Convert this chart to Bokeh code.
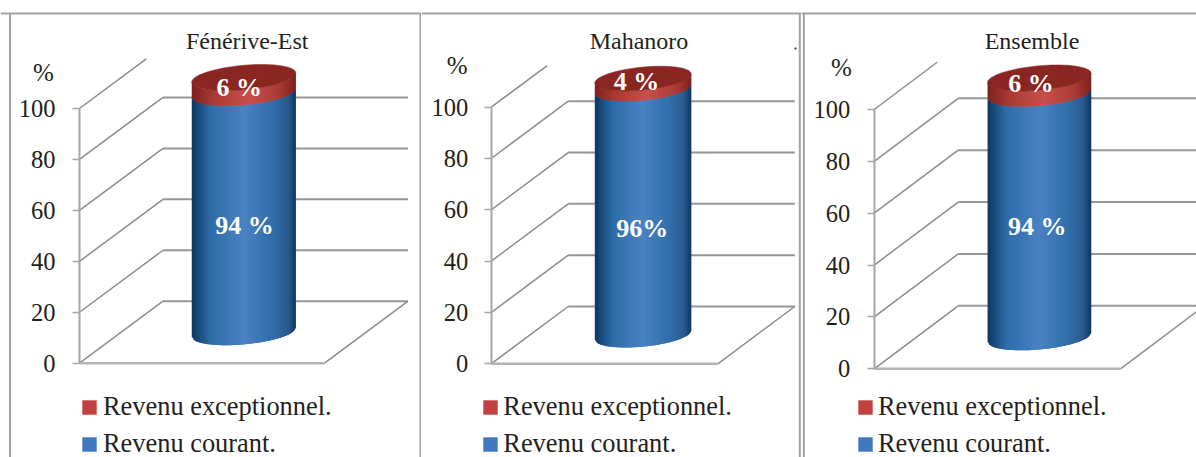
import numpy as np
from bokeh.core.properties import value
from bokeh.embed import file_html
from bokeh.layouts import row
from bokeh.models import FixedTicker, Legend, LegendItem, Range1d
from bokeh.plotting import figure
from bokeh.resources import INLINE

# ---- data ----
sites = ["Fénérive-Est", "Mahanoro", "Ensemble"]
revenu_courant = [94, 96, 94]
revenu_exceptionnel = [6, 4, 6]
courant_labels = ["94 %", "96%", "94 %"]
exceptionnel_labels = ["6 %", "4 %", "6 %"]
tick_values = [0, 20, 40, 60, 80, 100]
legend_labels = ["Revenu exceptionnel.", "Revenu courant."]
axis_unit = "%"

# ---- layout (page pixels) ----
FONT = "Liberation Serif"
TEXT = "#231f20"
GRID = "#969696"
panels = [
    dict(x0=0, x1=421, ax=79, y0=362.7, y100=108, front=324, dx=83.5, dy=62, cut=0.8, a=52, b=12.2,
         title_x=246.7, unit=(43, 71.5), lab_exc=(238.7, 87), lab_cou=(244, 225),
         leg=(82, 393), std=17, stand=5),
    dict(x0=421, x1=801, ax=490.7, y0=363.3, y100=106.7, front=717.3, dx=77, dy=57.3, cut=0.727, a=48.2, b=11.5,
         title_x=638.5, unit=(456.7, 64.5), lab_exc=(636, 81), lab_cou=(641.7, 228),
         leg=(483.3, 393), std=16, stand=4),
    dict(x0=801, x1=1196, ax=873.7, y0=368.3, y100=109, front=1120, dx=84, dy=63, cut=0.75, a=51.8, b=12.2,
         title_x=1031.5, unit=(841, 66.5), lab_exc=(1030.5, 82.5), lab_cou=(1036.7, 226),
         leg=(858, 393), std=17, stand=4),
]
blue_stops = [(0, "#0e3a63"), (.18, "#2e6ca8"), (.5, "#4a82c4"), (.8, "#2f6ca8"), (.93, "#2d5a8c"), (1, "#0e3b65")]
red_stops = [(0, "#7f211d"), (.2, "#a83a35"), (.55, "#c94f4a"), (.85, "#a83a35"), (1, "#7f211d")]
TOP_COLOR = "#8a2622"


def ramp(stops, t):
    ts = [s[0] for s in stops]
    cols = np.array([[int(s[1][i:i + 2], 16) for i in (1, 3, 5)] for s in stops], float)
    rgb = [np.interp(t, ts, cols[:, i]) for i in range(3)]
    return "#%02x%02x%02x" % tuple(int(round(c)) for c in rgb)


def build(i):
    g = panels[i]
    k = (g["y0"] - g["y100"]) / 100.0
    W, H = g["x1"] - g["x0"], 457
    to_v = lambda py: (g["y0"] - py) / k
    p = figure(width=W, height=H, output_backend="svg", toolbar_location=None,
               x_range=Range1d(g["x0"], g["x1"]), y_range=Range1d(to_v(H), to_v(0)),
               min_border=0, outline_line_color=None, background_fill_color="white",
               border_fill_color="white")
    p.grid.visible = False
    p.xaxis.visible = False

    ax = p.yaxis[0]
    ax.fixed_location = g["ax"]
    ax.ticker = FixedTicker(ticks=tick_values)
    ax.bounds = (0, 100)
    ax.axis_line_color = "#a6a6a6"
    ax.axis_line_width = 2
    ax.major_tick_line_color = "#a6a6a6"
    ax.major_tick_line_width = 1.5
    ax.major_tick_in = 0
    ax.major_tick_out = 7
    ax.minor_tick_line_color = None
    ax.major_label_text_font = FONT
    ax.major_label_text_font_size = "24.5px"
    ax.major_label_text_color = TEXT
    ax.major_label_standoff = g["std"]

    fx, fy = [], []
    fx.append([g["x0"], g["x1"]]); fy.append([to_v(13), to_v(13)])
    if i == 0:
        fx.append([9.5, 9.5]); fy.append([to_v(13), to_v(H)])
        fx.append([420, 420]); fy.append([to_v(13), to_v(H)])
    if i == 1:
        fx.append([799.3, 799.3]); fy.append([to_v(13), to_v(H)])
    if i == 2:
        fx.append([803.3, 803.3]); fy.append([to_v(13), to_v(H)])
    p.multi_line(fx, fy, line_color="#a3a3a3", line_width=2)

    dv = g["dy"] / k
    bx = g["ax"] + g["dx"]
    back = [t for t in tick_values if t < 100]
    p.multi_line([[bx, bx + g["front"] - g["ax"]] for _ in back],
                 [[t + dv, t + dv] for t in back], line_color=GRID, line_width=2)
    p.multi_line([[g["ax"], bx] for _ in back], [[t, t + dv] for t in back],
                 line_color="#8c8c8c", line_width=1.5)
    p.line([g["ax"], g["ax"] + g["dx"] * g["cut"]], [100, 100 + dv * g["cut"]],
           line_color="#8c8c8c", line_width=1.5)
    p.line([g["front"], bx + g["front"] - g["ax"]], [0, dv], line_color="#8c8c8c", line_width=1.5)
    p.line([g["ax"], g["front"]], [0, 0], line_color="#b4b4b4", line_width=2.5)

    cx = (g["ax"] + g["front"] + g["dx"]) / 2.0
    a, b = g["a"], g["b"]
    base = dv / 2.0
    n = 64
    edges = np.linspace(-1, 1, n + 1)
    shear = 4.5 / k

    def arc(val, u, sign):
        return val + base + shear * u + sign * (b / k) * np.sqrt(np.clip(1 - u * u, 0, 1))

    def strips(v_lo, v_hi, stops):
        xs, ys, cs = [], [], []
        for j in range(n):
            u0, u1 = edges[j], edges[min(j + 2, n)]
            xs.append([cx + a * u0, cx + a * u1, cx + a * u1, cx + a * u0])
            ys.append([arc(v_lo, u0, -1), arc(v_lo, u1, -1), arc(v_hi, u1, -1), arc(v_hi, u0, -1)])
            cs.append(ramp(stops, j / (n - 1)))
        p.patches(xs, ys, fill_color=cs, line_color=None)

    top = revenu_courant[i] + revenu_exceptionnel[i]
    strips(0, revenu_courant[i], blue_stops)
    strips(revenu_courant[i], top, red_stops)
    ring = np.linspace(0, 2 * np.pi, 90)
    p.patch(cx + a * np.cos(ring),
            top + base + shear * np.cos(ring) + (b / k) * np.sin(ring),
            fill_color=TOP_COLOR, line_color=TOP_COLOR, line_width=0.5)

    def txt(x, py, s, size, color=TEXT, style="normal", align="center"):
        p.text([x], [to_v(py)], text=[s], text_font=value(FONT), text_font_size=size,
               text_color=color, text_font_style=style, text_align=align, text_baseline="middle")

    txt(g["title_x"], 40, sites[i], "24px")
    txt(g["unit"][0], g["unit"][1], axis_unit, "25px")
    txt(g["lab_exc"][0], g["lab_exc"][1], exceptionnel_labels[i], "26px", "#ffffff", "bold")
    txt(g["lab_cou"][0], g["lab_cou"][1], courant_labels[i], "26px", "#ffffff", "bold")

    if i == 1:
        p.scatter([795], [to_v(48)], size=1.5, color="#555555")

    nan = float("nan")
    r_exc = p.quad(left=[nan], right=[nan], top=[nan], bottom=[nan], fill_color="#c0413d", line_color=None)
    r_cou = p.quad(left=[nan], right=[nan], top=[nan], bottom=[nan], fill_color="#3f78be", line_color=None)
    label_h = 30
    row_gap = 6
    lg = Legend(items=[LegendItem(label=legend_labels[0], renderers=[r_exc]),
                       LegendItem(label=legend_labels[1], renderers=[r_cou])],
                location=(g["leg"][0] - g["x0"] - 2, H - g["leg"][1] - 2 * label_h - row_gap),
                background_fill_alpha=0, border_line_color=None, padding=0, margin=0,
                glyph_width=18, glyph_height=18, label_standoff=g["stand"], spacing=row_gap,
                label_height=label_h, label_text_font=FONT, label_text_font_size="26.4px",
                label_text_color=TEXT)
    p.add_layout(lg, "center")
    return p


figs = [build(i) for i in range(3)]
page = row(*figs, spacing=0)
open("out.html", "w").write(file_html(page, INLINE))
